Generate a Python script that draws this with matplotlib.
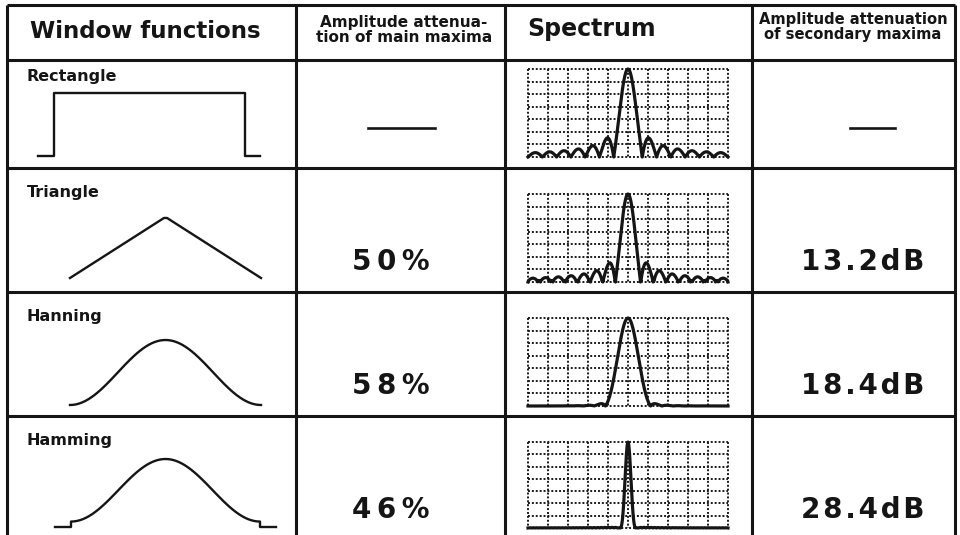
import numpy as np
import matplotlib
matplotlib.use("Agg")
import matplotlib.pyplot as plt

plt.rcParams['font.family'] = ['DejaVu Sans']

# table content
headers = ["Window functions", "Amplitude attenua-\ntion of main maxima",
           "Spectrum", "Amplitude attenuation\nof secondary maxima"]
windows = ["Rectangle", "Triangle", "Hanning", "Hamming"]
main_att = ["—", "50%", "58%", "46%"]
side_att = ["—", "13.2dB", "18.4dB", "28.4dB"]

# spectrum display: bins shown each side of the peak, display exponent
spec_bins = [7, 16, 9, 28]
spec_gamma = [1.0, 0.5, 1.0, 1.0]

N = 64
win_data = [np.ones(N), np.bartlett(N), np.hanning(N), np.hamming(N)]
win_height = [63, 61, 65, 68]
win_base = [96, 110, 113, 111]

# layout (pixels)
col_x = [7, 296, 505, 752, 955]
row_y = [5, 60, 168, 292, 416, 540]
ink = '#151515'


def spaced(s, gap):
    # extra letter spacing, like the original typesetting
    return gap.join(s)


fig = plt.figure(figsize=(9.6, 5.35), dpi=100)
ax = fig.add_axes([0, 0, 1, 1])
ax.set_xlim(0, 960)
ax.set_ylim(535, 0)
ax.axis('off')

lw_tab = 2.2
for x in col_x:
    ax.plot([x, x], [row_y[0], 535], color=ink, lw=lw_tab, solid_capstyle='butt')
for y in row_y[:-1]:
    ax.plot([col_x[0], col_x[-1]], [y, y], color=ink, lw=lw_tab, solid_capstyle='butt')

# header
ax.text(145, 31, headers[0], fontsize=16.5, fontweight='bold', ha='center', va='center', color=ink)
ax.text(404, 30, headers[1], fontsize=11, fontweight='bold', ha='center', va='center',
        linespacing=0.95, color=ink)
ax.text(527, 29, headers[2], fontsize=17, fontweight='bold', ha='left', va='center', color=ink)
ax.text(853, 27, headers[3], fontsize=10.6, fontweight='bold', ha='center', va='center',
        linespacing=0.92, color=ink)

for i, name in enumerate(windows):
    top = row_y[i + 1]
    # row label
    ax.text(27, top + (16 if i == 0 else 24), name, fontsize=11.5, fontweight='bold',
            ha='left', va='center', color=ink)

    # window shape
    w = win_data[i]
    base = top + win_base[i]
    ys = base - w * win_height[i]
    if i == 0:
        xs = np.concatenate([[38, 54], np.linspace(54, 245, N), [245, 260]])
        ys = np.concatenate([[base, base], ys, [base, base]])
    elif i == 3:
        xs = np.concatenate([[55, 71], np.linspace(71, 260, N), [260, 276]])
        ys = np.concatenate([[base, base], ys, [base, base]])
    else:
        xs = np.linspace(70, 261, N)
    ax.plot(xs, ys, color=ink, lw=1.7)

    # attenuation values
    if i == 0:
        ax.plot([368, 435], [top + 68, top + 68], color=ink, lw=1.9)
        ax.plot([850, 895], [top + 68, top + 68], color=ink, lw=1.9)
    else:
        ax.text(391, top + 94, spaced(main_att[i], '\u2009'), fontsize=20, fontweight='bold',
                ha='center', va='center', color=ink)
        ax.text(863, top + 94, spaced(side_att[i], '\u200a'), fontsize=20, fontweight='bold',
                ha='center', va='center', color=ink)

    # spectrum box with dotted grid
    bx0, bx1 = 528, 728
    by0 = top + (9 if i == 0 else 26)
    bh = 88 if i != 3 else 86
    by1 = by0 + bh
    for k in range(11):
        gx = bx0 + k * (bx1 - bx0) / 10
        ax.plot([gx, gx], [by0, by1], color='#1a1a1a', lw=1.4, ls=(0, (1, 1)))
    for k in range(8):
        gy = by0 + k * bh / 7
        ax.plot([bx0, bx1], [gy, gy], color='#1a1a1a', lw=1.4, ls=(0, (1, 1)))

    M = N * 64
    spec = np.abs(np.fft.fftshift(np.fft.fft(w, M)))
    spec = spec / spec.max()
    freq = (np.arange(M) - M // 2) * N / M
    B = spec_bins[i]
    sel = np.abs(freq) <= B
    mag = spec[sel] ** spec_gamma[i]
    sx = bx0 + (freq[sel] + B) / (2 * B) * (bx1 - bx0)
    sy = by1 - mag * bh
    ax.plot(sx, sy, color=ink, lw=2.3)

fig.savefig("out.png", dpi=100)
